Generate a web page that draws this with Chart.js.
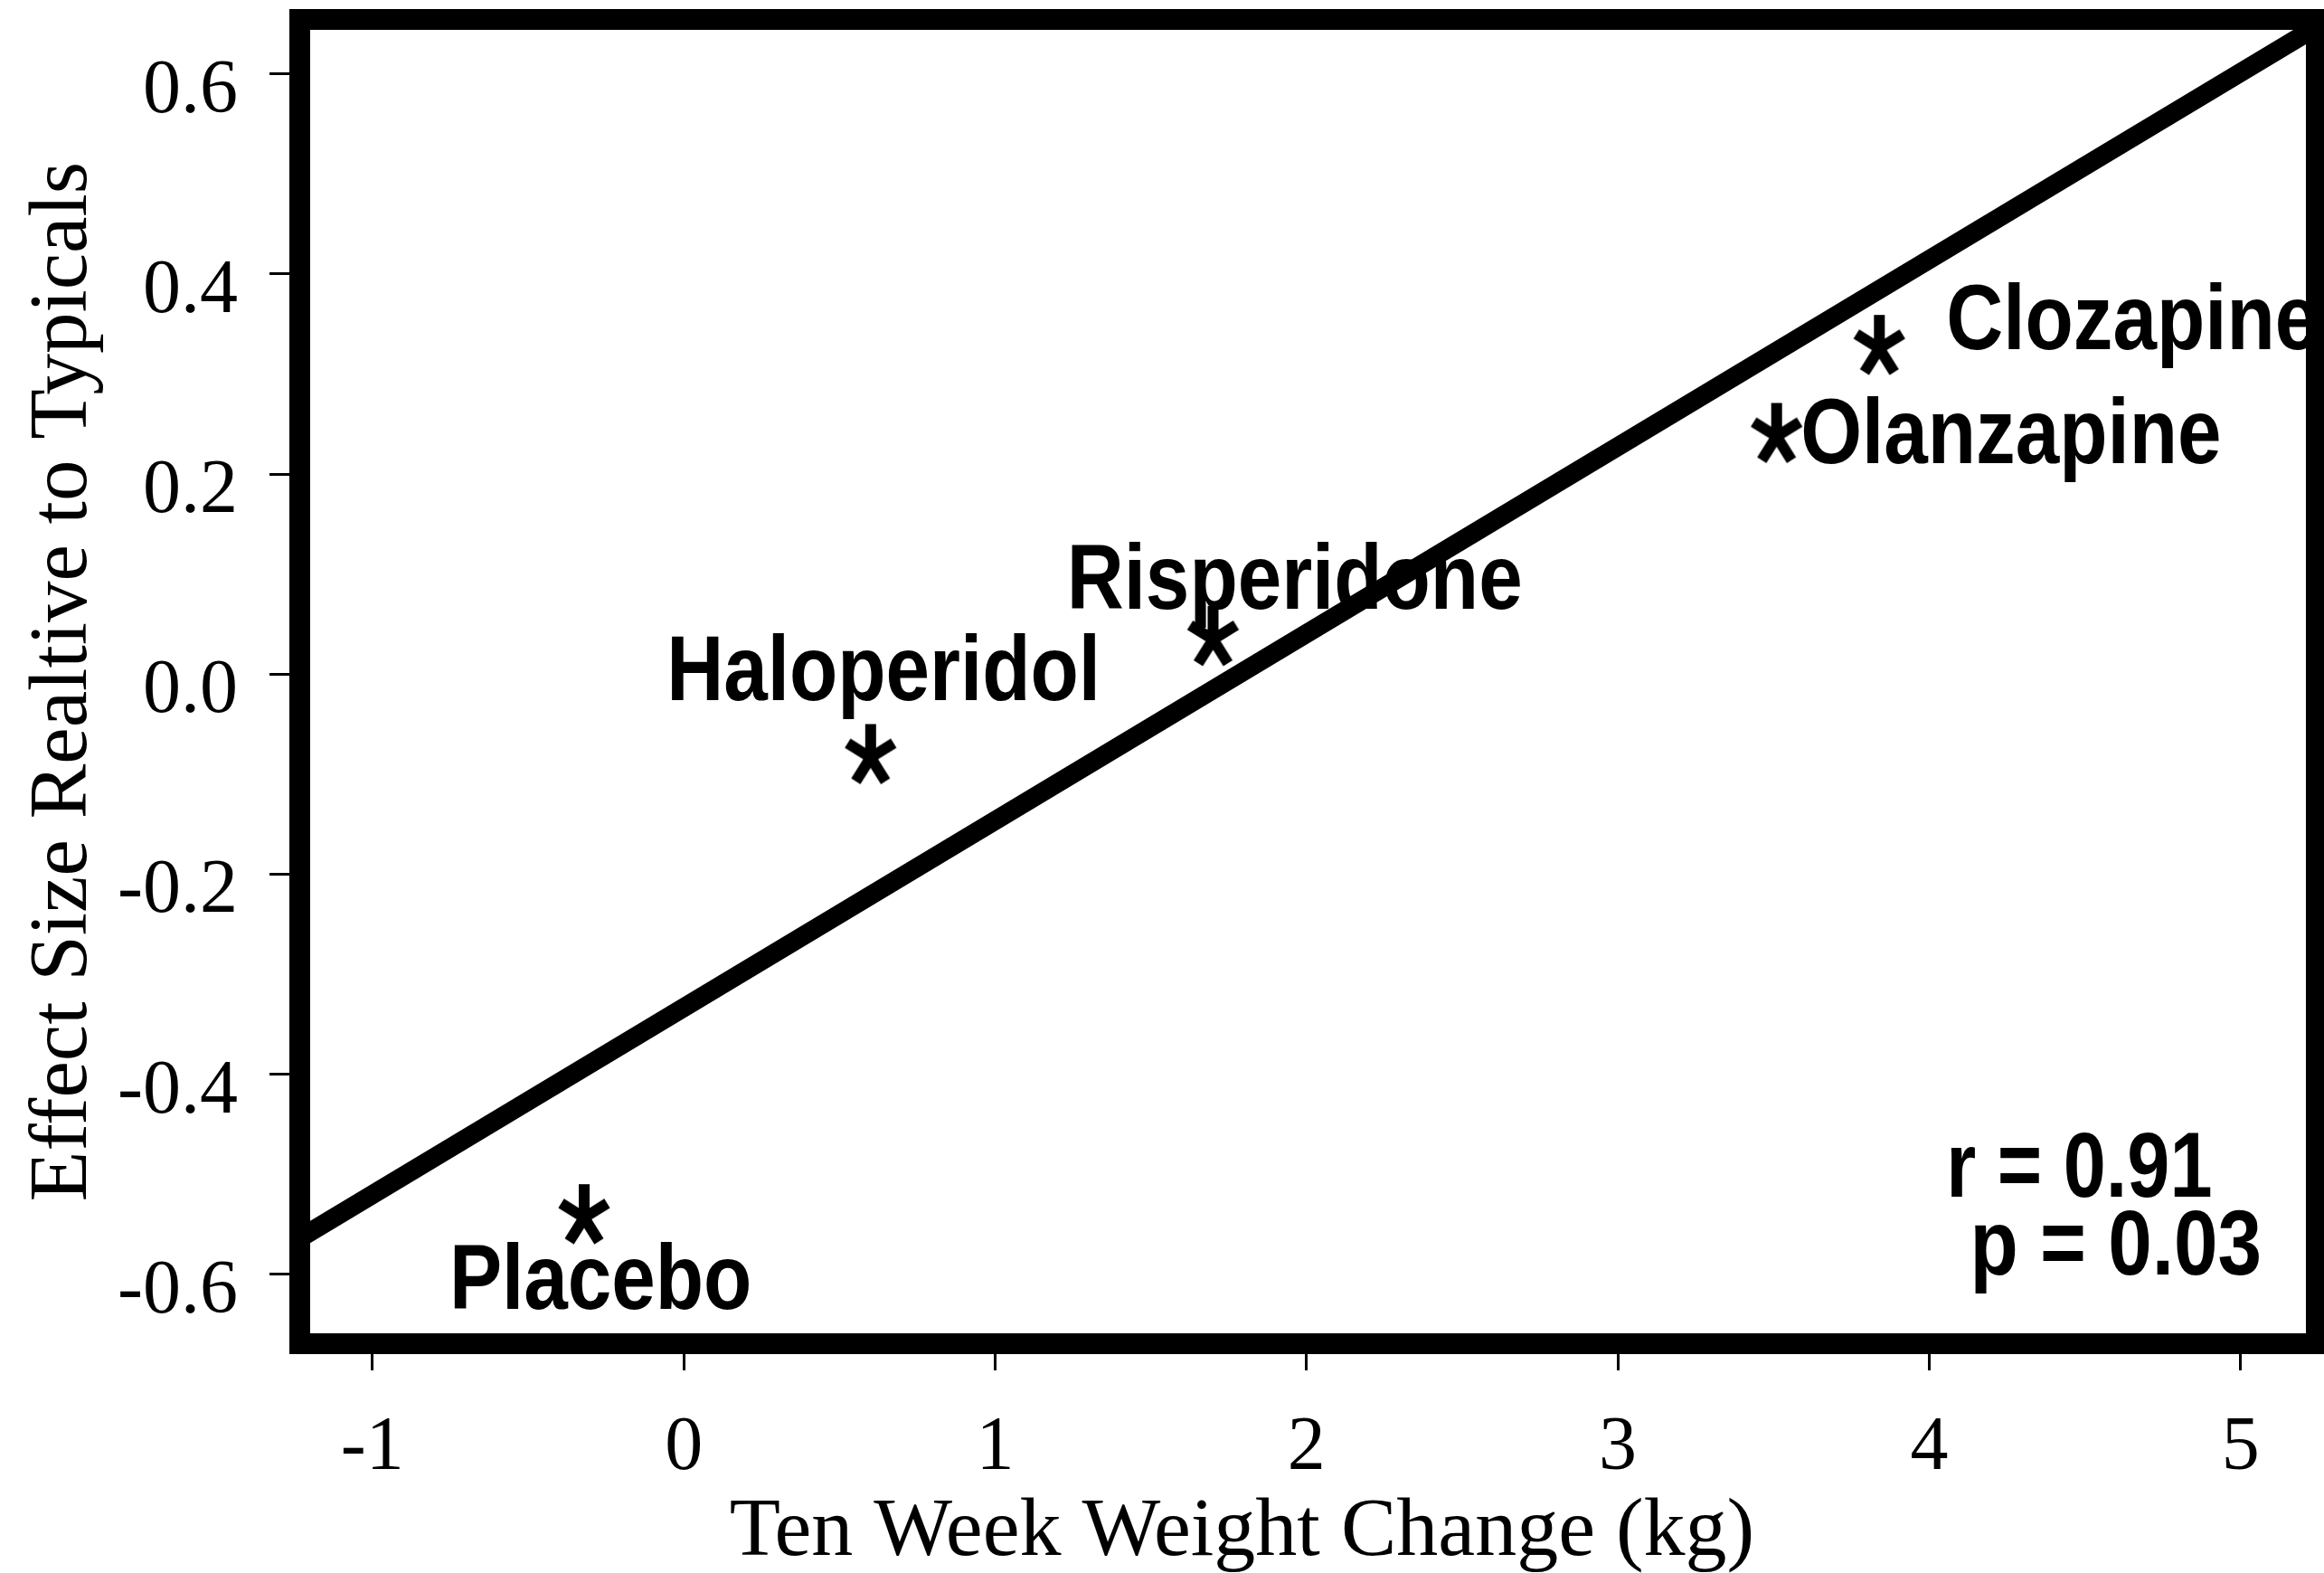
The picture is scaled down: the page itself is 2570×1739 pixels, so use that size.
<!DOCTYPE html>
<html>
<head>
<meta charset="utf-8">
<script src="https://cdn.jsdelivr.net/npm/chart.js@4.4.0/dist/chart.umd.min.js"></script>
<style>
    html, body { margin: 0; padding: 0; background: #fff; }
    #wrap { width: 2570px; height: 1739px; position: relative; }
</style>
</head>
<body>
<div id="wrap"><canvas id="weightChart"></canvas></div>
<script>
// Valores
const drugs = ['Placebo', 'Haloperidol', 'Risperidone', 'Olanzapine', 'Clozapine'];
const weightChange = [-0.32, 0.60, 1.70, 3.51, 3.84];
const effectSize = [-0.538, -0.078, 0.040, 0.243, 0.331];

// linha de regressão (vai de borda a borda)
const fitX = [-1.25, 5.25];
const fitY = [-0.567, 0.648];

const xTicks = [-1, 0, 1, 2, 3, 4, 5];
const yTicks = [-0.6, -0.4, -0.2, 0.0, 0.2, 0.4, 0.6];

const statLines = ['r = 0.91', 'p = 0.03'];

document.addEventListener('DOMContentLoaded', function() {
    // asterisco desenhado num canvas pequeno, usado como pointStyle
    function makeAsterisk() {
        const c = document.createElement('canvas');
        c.width = 90; c.height = 90;
        const g = c.getContext('2d');
        g.translate(45, 51);
        g.strokeStyle = '#000';
        g.lineWidth = 12;
        g.lineCap = 'butt';
        const arms = [[-90, 37], [-32, 30], [-148, 30], [58, 31], [122, 31]];
        arms.forEach(function(a) {
            const r = a[0] * Math.PI / 180;
            g.beginPath();
            g.moveTo(0, 0);
            g.lineTo(Math.cos(r) * a[1], Math.sin(r) * a[1]);
            g.stroke();
        });
        return c;
    }

    // posições dos rótulos em unidades dos eixos (esquerda, centro vertical)
    const labelSpots = [
        { text: drugs[0], x: -0.753, y: -0.601 },
        { text: drugs[1], x: -0.055, y: 0.007 },
        { text: drugs[2], x: 1.23, y: 0.099 },
        { text: drugs[3], x: 3.587, y: 0.244 },
        { text: drugs[4], x: 4.055, y: 0.358 },
        { text: statLines[0], x: 4.055, y: -0.489, sx: 0.83 },
        { text: statLines[1], x: 4.131, y: -0.567 }
    ];

    const boxPlugin = {
        id: 'boxPlugin',
        afterDraw: function(chart) {
            const ctx = chart.ctx;
            const area = chart.chartArea;
            const xs = chart.scales.x, ys = chart.scales.y;
            ctx.save();
            ctx.fillStyle = '#000';

            // rótulos das drogas e estatísticas
            ctx.font = 'bold 102px "Liberation Sans", Arial, sans-serif';
            ctx.textAlign = 'left';
            ctx.textBaseline = 'alphabetic';
            labelSpots.forEach(function(l) {
                const px = xs.getPixelForValue(l.x);
                const py = ys.getPixelForValue(l.y) + 37;
                ctx.save();
                ctx.translate(px, py);
                ctx.scale(l.sx || 0.855, 1);
                ctx.fillText(l.text, 0, 0);
                ctx.restore();
            });

            // título do eixo x
            ctx.font = '92px "Liberation Serif", "Times New Roman", serif';
            ctx.textAlign = 'center';
            ctx.fillText('Ten Week Weight Change (kg)', (area.left + area.right) / 2 - 73, 1719);

            // moldura grossa
            ctx.strokeStyle = '#000';
            ctx.lineWidth = 23;
            ctx.lineJoin = 'miter';
            ctx.strokeRect(area.left - 11.5, area.top - 11.5,
                area.right - area.left + 23, area.bottom - area.top + 23);
            ctx.restore();
        }
    };

    const ctx = document.getElementById('weightChart').getContext('2d');
    new Chart(ctx, {
        type: 'scatter',
        data: {
            datasets: [
                {
                    label: 'Drogas',
                    data: weightChange.map((w, i) => ({ x: w, y: effectSize[i] })),
                    pointStyle: makeAsterisk(),
                    pointRadius: 5,
                    pointHoverRadius: 5,
                    showLine: false
                },
                {
                    label: 'Regressão',
                    data: fitX.map((x, i) => ({ x: x, y: fitY[i] })),
                    showLine: true,
                    borderColor: '#000',
                    borderWidth: 21,
                    pointRadius: 0,
                    fill: false
                }
            ]
        },
        options: {
            responsive: true,
            maintainAspectRatio: false,
            animation: false,
            layout: {
                autoPadding: false,
                padding: { top: 33, right: 20, left: 0, bottom: 0 }
            },
            plugins: {
                legend: { display: false },
                tooltip: { enabled: false }
            },
            scales: {
                x: {
                    type: 'linear',
                    min: -1.2,
                    max: 5.21,
                    afterBuildTicks: function(s) { s.ticks = xTicks.map(v => ({ value: v })); },
                    afterFit: function(s) { s.height = 265; s.paddingLeft = 0; s.paddingRight = 0; },
                    border: { display: false },
                    grid: {
                        drawOnChartArea: false,
                        drawTicks: true,
                        tickLength: 41,
                        tickWidth: 3,
                        color: '#000'
                    },
                    ticks: {
                        color: '#000',
                        font: { family: '"Liberation Serif", "Times New Roman", serif', size: 84 },
                        padding: 37,
                        maxRotation: 0,
                        autoSkip: false,
                        callback: v => String(v)
                    }
                },
                y: {
                    type: 'linear',
                    min: -0.659,
                    max: 0.644,
                    afterBuildTicks: function(s) { s.ticks = yTicks.map(v => ({ value: v })); },
                    afterFit: function(s) { s.width = 343; s.paddingTop = 0; s.paddingBottom = 0; },
                    border: { display: false },
                    grid: {
                        drawOnChartArea: false,
                        drawTicks: true,
                        tickLength: 45,
                        tickWidth: 3,
                        color: '#000'
                    },
                    ticks: {
                        color: '#000',
                        font: { family: '"Liberation Serif", "Times New Roman", serif', size: 84 },
                        padding: 35,
                        labelOffset: 20,
                        autoSkip: false,
                        callback: v => (Math.abs(v) < 1e-9 ? 0 : v).toFixed(1)
                    },
                    title: {
                        display: true,
                        text: 'Effect Size Realtive to Typicals',
                        color: '#000',
                        font: { family: '"Liberation Serif", "Times New Roman", serif', size: 91, lineHeight: 1.2 },
                        padding: { top: 16, bottom: 0 }
                    }
                }
            }
        },
        plugins: [boxPlugin]
    });
});
</script>
</body>
</html>
